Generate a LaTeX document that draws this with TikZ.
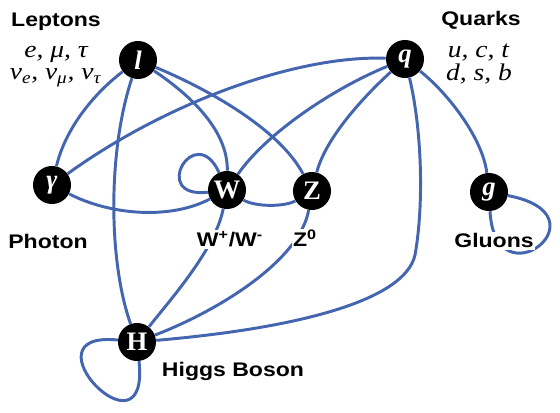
\documentclass[tikz,border=0pt]{standalone}
\usepackage{fontspec}
\setmainfont{Liberation Serif}
\setsansfont{Liberation Sans}[FakeStretch=1.17]
\newfontfamily\flavourfont{Liberation Serif}[FakeStretch=1.15]
\usetikzlibrary{positioning}
\definecolor{linkblue}{HTML}{4466B0}
\tikzset{
  particle/.style={circle, fill=black, text=white, minimum size=0.95cm, inner sep=0pt,
    font=\fontsize{19}{19}\selectfont\bfseries},
  coupling/.style={draw=linkblue, line width=2.1pt},
  family/.style={font=\fontsize{14}{16}\selectfont\sffamily\bfseries, fill=white, inner sep=1pt, anchor=base},
  flavours/.style={font=\fontsize{17}{19}\selectfont\flavourfont\itshape, inner sep=0pt, anchor=base},
}

\begin{document}
\begin{tikzpicture}[x=0.025cm,y=-0.025cm]
    \useasboundingbox (0,0) rectangle (560,413);
    % Particles
    \node[particle] (l) at (138,60) {\itshape l};
    \node[particle] (q) at (405,59) {\itshape q};
    \node[particle] (gam) at (52,185) {\itshape γ};
    \node[particle] (w) at (227,190) {W};
    \node[particle] (z) at (312,191) {Z};
    \node[particle] (g) at (489,192) {\itshape g};
    \node[particle] (h) at (137,342) {H};
    % Lepton couplings
    \draw[coupling] (l) .. controls (92,95) and (65,130) .. (gam);
    \draw[coupling] (l) .. controls (108,150) and (108,260) .. (h);
    \draw[coupling] (l) .. controls (190,95) and (228,130) .. (w);
    \draw[coupling] (l) .. controls (210,90) and (280,130) .. (z);
    % Quark couplings
    \draw[coupling] (q) .. controls (300,55) and (170,100) .. (gam);
    \draw[coupling] (q) .. controls (330,90) and (265,135) .. (w);
    \draw[coupling] (q) .. controls (360,100) and (325,140) .. (z);
    \draw[coupling] (q) .. controls (422,130) and (424,205) .. (415,255)
        .. controls (405,300) and (300,328) .. (h);
    \draw[coupling] (q) .. controls (450,95) and (483,140) .. (g);
    % Bosons
    \draw[coupling] (gam) .. controls (110,215) and (170,220) .. (w);
    \draw[coupling] (w) .. controls (255,207) and (285,207) .. (z);
    \draw[coupling] (w) .. controls (215,250) and (170,300) .. (h);
    \draw[coupling] (z) .. controls (300,260) and (220,310) .. (h);
    % Self couplings
    \draw[coupling] (w) .. controls (195,120) and (149,199) .. (w);
    \draw[coupling] (h) .. controls (20,330) and (150,465) .. (h);
    \draw[coupling] (g) .. controls (495,305) and (610,215) .. (g);
    % Labels
    \node[family] (leptons) at (56,27) {Leptons};
    \node[flavours] (charged) at (56,58) {e, μ, τ};
    \node[flavours] (neutrinos) at (55.5,80) {ν\textsubscript{e}, ν\textsubscript{μ}, ν\textsubscript{τ}};
    \node[family] (quarks) at (481,26) {Quarks};
    \node[flavours] (uptype) at (478.5,58) {u, c, t};
    \node[flavours] (downtype) at (479,81) {d, s, b};
    \node[family] (photon) at (48,249) {Photon};
    \node[family] (wlabel) at (230,247) {W\textsuperscript{+}/W\textsuperscript{-}};
    \node[family] (zlabel) at (305,247) {Z\textsuperscript{0}};
    \node[family] (gluons) at (494,248) {Gluons};
    \node[family] (higgs) at (233,376) {Higgs Boson};
\end{tikzpicture}
\end{document}
